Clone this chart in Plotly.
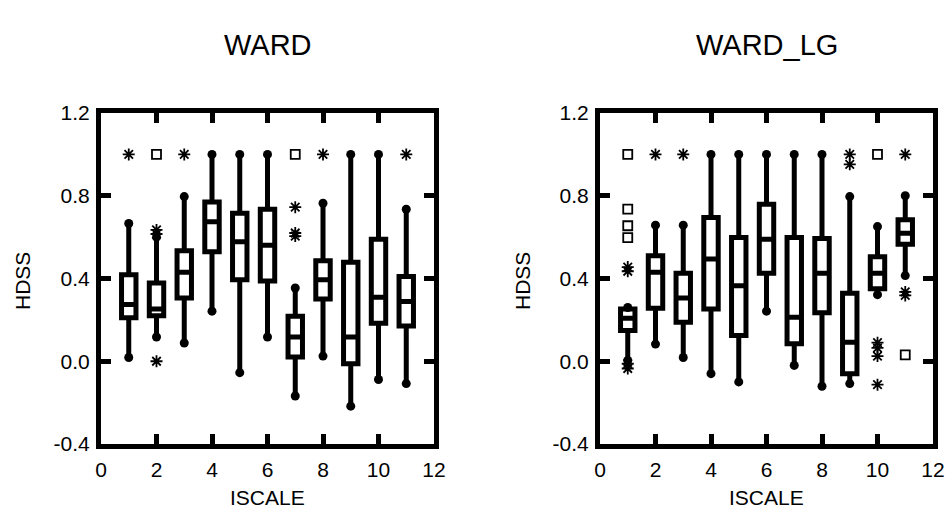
import plotly.graph_objects as go

iscale = [1, 2, 3, 4, 5, 6, 7, 8, 9, 10, 11]

# WARD
ward_low = [0.018, 0.117, 0.088, 0.242, -0.055, 0.117, -0.168, 0.025, -0.217, -0.088, -0.108]
ward_q1 = [0.21, 0.22, 0.306, 0.529, 0.394, 0.388, 0.02, 0.301, -0.012, 0.184, 0.17]
ward_med = [0.274, 0.253, 0.43, 0.674, 0.578, 0.561, 0.117, 0.394, 0.117, 0.309, 0.289]
ward_q3 = [0.418, 0.378, 0.534, 0.77, 0.716, 0.735, 0.218, 0.486, 0.478, 0.59, 0.41]
ward_high = [0.666, 0.60, 0.796, 1.0, 1.0, 1.0, 0.354, 0.764, 1.0, 1.0, 0.735]
ward_star_x = [1, 2, 2, 2, 3, 7, 7, 7, 8, 11]
ward_star_y = [1.0, 0.615, 0.635, 0.0, 1.0, 0.745, 0.62, 0.605, 1.0, 1.0]
ward_sq_x = [2, 7]
ward_sq_y = [1.0, 1.0]

# WARD_LG
lg_low = [0.004, 0.083, 0.018, -0.06, -0.1, 0.242, -0.02, -0.121, -0.108, 0.322, 0.414]
lg_q1 = [0.149, 0.256, 0.189, 0.253, 0.124, 0.425, 0.084, 0.234, -0.06, 0.35, 0.566]
lg_med = [0.208, 0.43, 0.306, 0.494, 0.365, 0.59, 0.213, 0.425, 0.092, 0.425, 0.619]
lg_q3 = [0.253, 0.51, 0.425, 0.695, 0.598, 0.759, 0.598, 0.593, 0.329, 0.505, 0.684]
lg_high = [0.26, 0.658, 0.658, 1.0, 1.0, 1.0, 1.0, 1.0, 0.796, 0.651, 0.8]
lg_star_x = [1, 1, 1, 1, 2, 3, 9, 9, 10, 10, 10, 10, 11, 11, 11]
lg_star_y = [0.455, 0.435, -0.012, -0.035, 1.0, 1.0, 1.0, 0.952, 0.09, 0.065, 0.025, -0.113, 1.0, 0.335, 0.318]
lg_sq_x = [1, 1, 1, 1, 10, 11]
lg_sq_y = [1.0, 0.735, 0.655, 0.598, 1.0, 0.031]

FONT = "Liberation Sans, Arial, sans-serif"
fig = go.Figure()

panels = [
    ("x", "y", ward_low, ward_q1, ward_med, ward_q3, ward_high, ward_star_x, ward_star_y, ward_sq_x, ward_sq_y),
    ("x2", "y2", lg_low, lg_q1, lg_med, lg_q3, lg_high, lg_star_x, lg_star_y, lg_sq_x, lg_sq_y),
]
for xa, ya, lo, q1, med, q3, hi, sx, sy, qx, qy in panels:
    fig.add_trace(go.Box(
        x=iscale, q1=q1, median=med, q3=q3, lowerfence=lo, upperfence=hi,
        width=0.52, whiskerwidth=0, fillcolor="white",
        line=dict(color="black", width=5), boxpoints=False,
        xaxis=xa, yaxis=ya, showlegend=False, hoverinfo="skip"))
    fig.add_trace(go.Scatter(
        x=iscale + iscale, y=lo + hi, mode="markers",
        marker=dict(symbol="circle", size=9, color="black"),
        xaxis=xa, yaxis=ya, showlegend=False, hoverinfo="skip"))
    fig.add_trace(go.Scatter(
        x=sx, y=sy, mode="markers",
        marker=dict(symbol="asterisk-open", size=10, color="black",
                    line=dict(color="black", width=1.8)),
        xaxis=xa, yaxis=ya, showlegend=False, hoverinfo="skip"))
    fig.add_trace(go.Scatter(
        x=qx, y=qy, mode="markers",
        marker=dict(symbol="square-open", size=9, color="black",
                    line=dict(color="black", width=1.8)),
        xaxis=xa, yaxis=ya, showlegend=False, hoverinfo="skip"))

xdom1 = [101 / 948, 434 / 948]
xdom2 = [600 / 948, 933 / 948]
ydom = [1 - 444 / 508, 1 - 113 / 508]

xticks = [0, 2, 4, 6, 8, 10, 12]
yticks = [-0.4, 0.0, 0.4, 0.8, 1.2]
ytext = ["-0.4", "0.0", "0.4", "0.8", "1.2"]

common_x = dict(range=[0, 12], tickvals=xticks, ticks="inside", ticklen=10, tickwidth=5,
                tickcolor="black", showline=True, linewidth=5, linecolor="black",
                mirror="ticks", showgrid=False, zeroline=False, automargin=False,
                tickfont=dict(family=FONT, size=21, color="black"), ticklabelstandoff=3)
common_y = dict(range=[-0.4, 1.2], tickvals=yticks, ticktext=ytext, ticks="inside", ticklen=10,
                tickwidth=5, tickcolor="black", showline=True, linewidth=5, linecolor="black",
                mirror="ticks", showgrid=False, zeroline=False, automargin=False,
                tickfont=dict(family=FONT, size=21, color="black"), ticklabelstandoff=2)

fig.update_layout(
    template="none",
    width=948, height=508, margin=dict(l=0, r=0, t=0, b=0, pad=0),
    paper_bgcolor="white", plot_bgcolor="white",
    xaxis=dict(domain=xdom1, anchor="y", **common_x),
    yaxis=dict(domain=ydom, anchor="x", **common_y),
    xaxis2=dict(domain=xdom2, anchor="y2", **common_x),
    yaxis2=dict(domain=ydom, anchor="x2", **common_y),
)

ann = []
for cx, title in [((xdom1[0] + xdom1[1]) / 2, "WARD"), ((xdom2[0] + xdom2[1]) / 2, "WARD_LG")]:
    ann.append(dict(text=title, x=cx, y=1 - 45 / 508, xref="paper", yref="paper",
                    showarrow=False, xanchor="center", yanchor="middle",
                    font=dict(family=FONT, size=29, color="black")))
    ann.append(dict(text="ISCALE", x=cx, y=1 - 497 / 508, xref="paper", yref="paper",
                    showarrow=False, xanchor="center", yanchor="middle",
                    font=dict(family=FONT, size=21, color="black")))
for hx in [22, 522]:
    ann.append(dict(text="HDSS", x=hx / 948, y=1 - 281 / 508, xref="paper", yref="paper",
                    showarrow=False, xanchor="center", yanchor="middle", textangle=-90,
                    font=dict(family=FONT, size=21, color="black")))
fig.update_layout(annotations=ann)

fig.write_html("out.html")
